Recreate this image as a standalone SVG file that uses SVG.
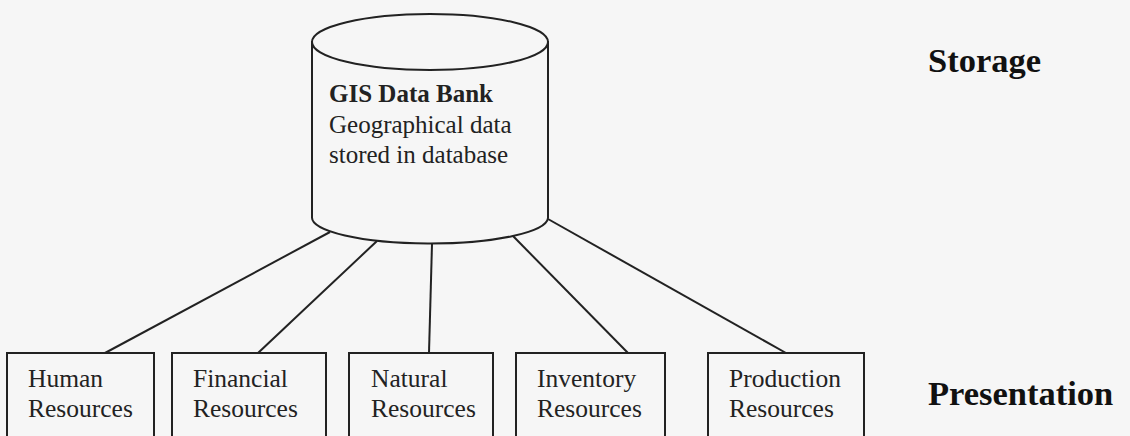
<svg xmlns="http://www.w3.org/2000/svg" width="1130" height="436" viewBox="0 0 1130 436">
  <style>
    .ink { fill: none; stroke: #222; stroke-width: 2; }
    .box { fill: #f6f6f6; stroke: #222; stroke-width: 2; }
    .t { font-family: "Liberation Serif", "Times New Roman", serif; fill: #222; font-size: 25.5px; }
    .cyl { font-family: "Liberation Serif", "Times New Roman", serif; fill: #222; font-size: 25px; }
    .tier { font-family: "Liberation Serif", "Times New Roman", serif; fill: #111; font-size: 34.5px; font-weight: bold; }
  </style>
  <rect width="1130" height="436" fill="#f6f6f6"/>

  <!-- connectors from the data bank to each resource -->
  <g id="connectors" class="ink">
    <line x1="330" y1="232" x2="105" y2="353"/>
    <line x1="377" y1="241" x2="258" y2="353"/>
    <line x1="432" y1="244" x2="429" y2="353"/>
    <line x1="513" y1="236" x2="628" y2="353"/>
    <line x1="548" y1="219" x2="786" y2="353"/>
  </g>

  <!-- database cylinder -->
  <g id="gis-data-bank">
    <path class="box" d="M312 42 L312 217 A118 26 0 0 0 548 218 L548 42 Z"/>
    <ellipse class="box" cx="430" cy="42" rx="118" ry="28"/>
    <text class="cyl" x="329" y="102" font-weight="bold">GIS Data Bank</text>
    <text class="cyl" x="329" y="133">Geographical data</text>
    <text class="cyl" x="329" y="163">stored in database</text>
  </g>

  <g id="human-resources">
    <rect class="box" x="7" y="353" width="147" height="90"/>
    <text class="t" x="28" y="387">Human</text>
    <text class="t" x="28" y="417">Resources</text>
  </g>
  <g id="financial-resources">
    <rect class="box" x="172" y="353" width="154" height="90"/>
    <text class="t" x="193" y="387">Financial</text>
    <text class="t" x="193" y="417">Resources</text>
  </g>
  <g id="natural-resources">
    <rect class="box" x="349" y="353" width="144" height="90"/>
    <text class="t" x="371" y="387">Natural</text>
    <text class="t" x="371" y="417">Resources</text>
  </g>
  <g id="inventory-resources">
    <rect class="box" x="516" y="353" width="149" height="90"/>
    <text class="t" x="537" y="387">Inventory</text>
    <text class="t" x="537" y="417">Resources</text>
  </g>
  <g id="production-resources">
    <rect class="box" x="708" y="353" width="156" height="90"/>
    <text class="t" x="729" y="387">Production</text>
    <text class="t" x="729" y="417">Resources</text>
  </g>

  <g id="tier-labels">
    <text class="tier" x="928" y="72">Storage</text>
    <text class="tier" x="928" y="405">Presentation</text>
  </g>
</svg>
